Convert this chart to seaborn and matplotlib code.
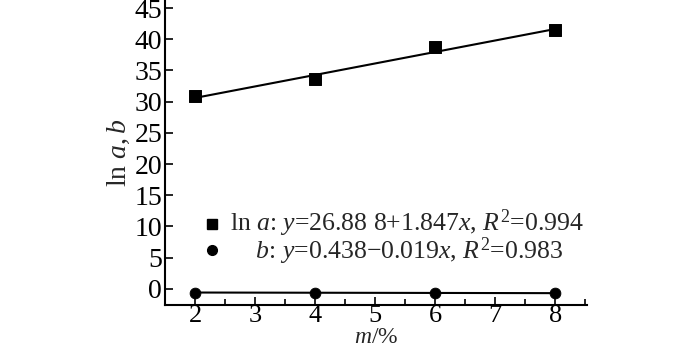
import matplotlib
matplotlib.use("Agg")
import matplotlib.pyplot as plt
import seaborn as sns
import pandas as pd
from matplotlib.ticker import MultipleLocator
from matplotlib.lines import Line2D

m_values = [2, 4, 6, 8]
ln_a = [30.9, 33.7, 38.7, 41.5]
b_vals = [-0.6, -0.6, -0.6, -0.7]
fit_x = [2, 8]
fit_ln_a = [30.6, 41.65]
fit_b = [-0.6, -0.7]
label_a = r'$\mathrm{ln}\ a$: $y$=26.88 8+1.847$x$, $R^2$=0.994'
label_b = r'    $b$: $y$=0.438$-$0.019$x$, $R^2$=0.983'

sns.set_style("ticks")
plt.rcParams['font.family'] = ['Liberation Serif', 'DejaVu Serif']
plt.rcParams['mathtext.fontset'] = 'custom'
plt.rcParams['mathtext.rm'] = 'Liberation Serif'
plt.rcParams['mathtext.it'] = 'Liberation Serif:italic'

fig = plt.figure(figsize=(7, 3.52), dpi=100)
ax = fig.add_axes([165/700, 1-305/352, (587-165)/700, (305-0)/352])

df_pts = pd.DataFrame({'m': m_values, 'ln_a': ln_a, 'b': b_vals})
df_fit = pd.DataFrame({'m': fit_x, 'ln_a': fit_ln_a, 'b': fit_b})

sns.lineplot(data=df_fit, x='m', y='ln_a', color='black', lw=1.5, ax=ax)
sns.lineplot(data=df_fit, x='m', y='b', color='black', lw=1.5, ax=ax)
sns.scatterplot(data=df_pts, x='m', y='ln_a', marker='s', s=75, color='black', edgecolor='black', ax=ax, zorder=3)
sns.scatterplot(data=df_pts, x='m', y='b', marker='o', s=60, color='black', edgecolor='black', ax=ax, zorder=3)

ax.set_xlim(1.5, 8.53)
ax.set_ylim(-2.6, 46.3)
ax.xaxis.set_major_locator(MultipleLocator(1))
ax.xaxis.set_minor_locator(MultipleLocator(0.5))
ax.tick_params(axis='both', which='both', direction='in', labelsize=20, colors='black', width=1.2)
ax.tick_params(axis='both', which='major', length=6)
ax.tick_params(axis='x', which='minor', length=4)
ax.tick_params(axis='x', pad=0, labelsize=19)
ax.tick_params(axis='y', pad=2)
ax.set_yticks(range(0, 50, 5))
sns.despine(ax=ax)
for s in ['left', 'bottom']:
    ax.spines[s].set_linewidth(1.5)
    ax.spines[s].set_color('black')

ax.set_xlabel(r'$m$/%', fontsize=17, labelpad=0)
ax.set_ylabel(r'$\mathrm{ln}\ a,b$', fontsize=20, labelpad=2)

fig.text(230/700, 1-237/352, label_a + '\n' + label_b, fontsize=18.5, va='center', ha='left',
         linespacing=0.85)
fig.add_artist(Line2D([212/700], [1-224/352], marker='s', markersize=7, color='black', transform=fig.transFigure))
fig.add_artist(Line2D([212/700], [1-250/352], marker='o', markersize=7, color='black', transform=fig.transFigure))

fig.savefig('out.png', dpi=100)
